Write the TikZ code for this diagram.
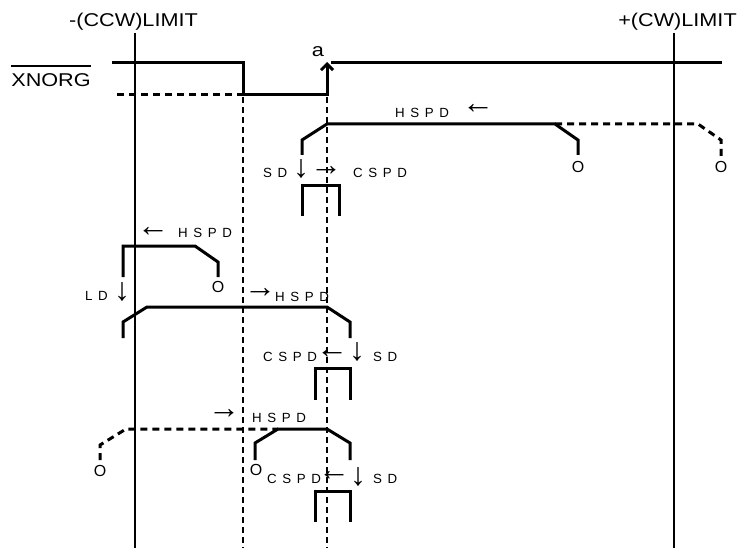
\documentclass[tikz,border=0pt]{standalone}
\usepackage{fontspec}
\setmainfont{Liberation Sans}
\usetikzlibrary{arrows.meta}
\newcommand\ls{\hspace{5.6pt}}
\begin{document}
\begin{tikzpicture}[x=1pt,y=-1pt,
  sig/.style={line width=3pt},
  lim/.style={line width=2pt},
  guide/.style={line width=1.8pt,dash pattern=on 6pt off 4pt},
  dsig/.style={line width=3pt,dash pattern=on 7pt off 5pt},
  big/.style={inner sep=0pt,anchor=base,font=\fontsize{18.5}{20}\selectfont,xscale=1.17},
  lab/.style={inner sep=0pt,anchor=west,font=\fontsize{13.3}{15}\selectfont},
  arr/.style={inner sep=0pt,font=\fontsize{32}{34}\selectfont},
  zero/.style={inner sep=0pt,font=\fontsize{16}{17}\selectfont},
  line join=miter]
\useasboundingbox (0,0) rectangle (743,548);
% limit lines and guides
\draw[lim] (135,33) -- (135,548);
\draw[lim] (674,33) -- (674,548);
\draw[guide] (243,97) -- (243,548);
\draw[guide] (327,97) -- (327,548);
% titles
\node[big] (ccw) at (133.5,27) {-(CCW)LIMIT};
\node[big] (cw) at (677.5,27) {+(CW)LIMIT};
\node[big] (xn) at (51,87) {XNORG};
\draw[line width=1.5pt] ([yshift=8pt]xn.north west) -- ([yshift=8pt]xn.north east);
\node[big] (a) at (318,57) {a};
% XNORG signal
\draw[sig] (112,63) -- (243,63) -- (243,95) -- (327,95) -- (327,66);
\draw[sig,-{Straight Barb[length=6pt,width=12pt]}] (327,95) -- (327,62);
\draw[sig] (331,63) -- (722,63);
\draw[dsig] (117,95) -- (243,95);
% profile 1
\draw[sig] (302,155) -- (302,140) -- (327,124) -- (555,124) -- (578,140) -- (578,155);
\draw[dsig] (555,124) -- (698,124) -- (721,140) -- (721,156);
\node[zero] (o1) at (578,167) {O};
\node[zero] (o2) at (721,167) {O};
\node[lab] (h1) at (395,113) {H\ls S\ls P\ls D};
\node[arr] (h1a) at (478,109) {←};
\node[lab] (sd1) at (263,173) {S\ls D};
\node[arr] (sd1a) at (301,169) {↓};
\node[arr] (cs1a) at (326,171) {→};
\node[lab] (cs1) at (353,173) {C\ls S\ls P\ls D};
\draw[sig] (302,216) -- (302,185) -- (339,185) -- (339,216);
% profile 2
\node[arr] (h2a) at (153,232) {←};
\node[lab] (h2) at (178,233) {H\ls S\ls P\ls D};
\draw[sig] (123,277) -- (123,246) -- (195,246) -- (218,262) -- (218,277);
\node[zero] (o3) at (218,287) {O};
\node[lab] (ld) at (85,296) {L\ls D};
\node[arr] (lda) at (122,292) {↓};
\draw[sig] (123,338) -- (123,322) -- (147,307) -- (327,307) -- (350,322) -- (350,338);
\node[arr] (h3a) at (260,293) {→};
\node[lab] (h3) at (275,297) {H\ls S\ls P\ls D};
\node[lab] (cs2) at (263,357) {C\ls S\ls P\ls D};
\node[arr] (cs2a) at (332,354) {←};
\node[arr] (sd2a) at (357,352) {↓};
\node[lab] (sd2) at (373,357) {S\ls D};
\draw[sig] (315,400) -- (315,368) -- (350,368) -- (350,400);
% profile 3
\node[arr] (h4a) at (224,414) {→};
\node[lab] (h4) at (252,418) {H\ls S\ls P\ls D};
\draw[dsig] (100,460) -- (100,445) -- (126,429) -- (278,429);
\draw[sig] (255,460) -- (255,443) -- (278,429) -- (327,429) -- (350,443) -- (350,460);
\node[zero] (o4) at (100,471) {O};
\node[zero] (o5) at (256,470) {O};
\node[lab] (cs3) at (267,479) {C\ls S\ls P\ls D};
\node[arr] (cs3a) at (334,476) {←};
\node[arr] (sd3a) at (358,477) {↓};
\node[lab] (sd3) at (373,479) {S\ls D};
\draw[sig] (315,522) -- (315,491) -- (350,491) -- (350,522);
\end{tikzpicture}
\end{document}
